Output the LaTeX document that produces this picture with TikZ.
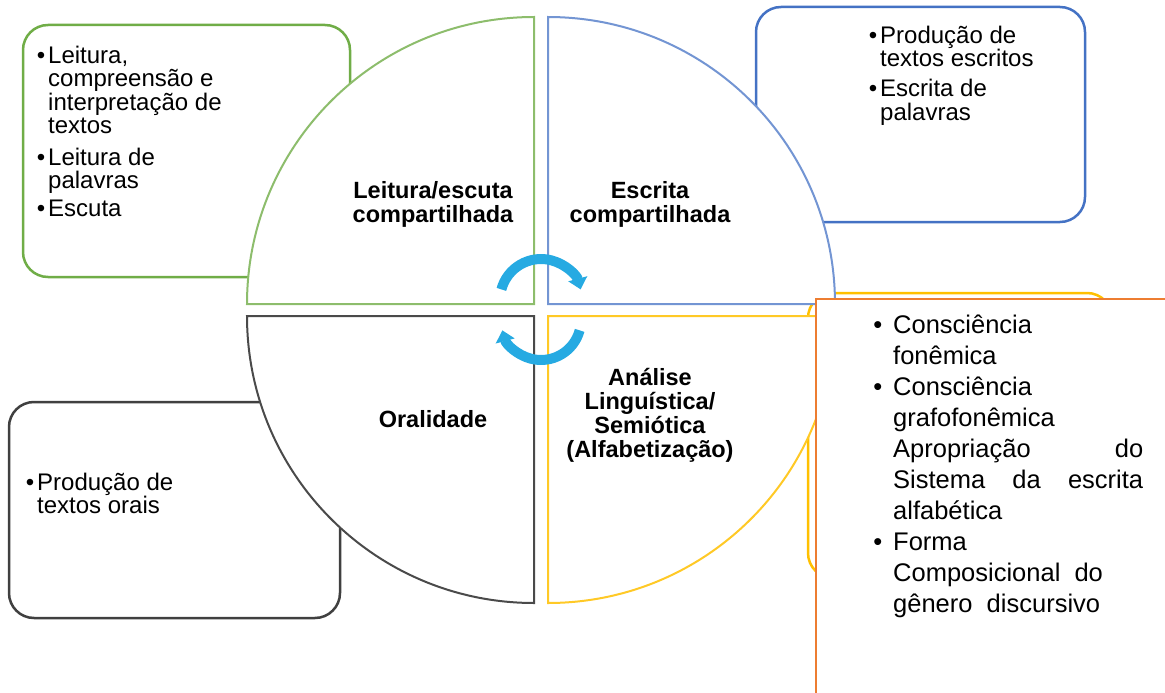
\documentclass[tikz,border=0pt]{standalone}
\usepackage{fontspec}
\setmainfont{Liberation Sans}
\usepackage{color}
\usetikzlibrary{arrows.meta}

\definecolor{grn}{RGB}{112,173,71}
\definecolor{blu}{RGB}{68,114,196}
\definecolor{gry}{RGB}{64,64,64}
\definecolor{ylw}{RGB}{255,192,0}
\definecolor{org}{RGB}{237,125,49}
\definecolor{cyn}{RGB}{38,170,226}

\newcommand{\bul}[1][3pt]{\llap{\textbullet\hspace{#1}}}

\tikzset{
  sidebox/.style={fill=white, rounded corners=25pt, line width=2.5pt},
  quad/.style={fill=white, line width=2pt},
  sidetext/.style={anchor=north west, align=left, inner sep=0pt,
    font=\fontsize{24}{23.5}\selectfont},
  quadtext/.style={align=center, inner sep=0pt,
    font=\bfseries\fontsize{23.5}{24}\selectfont},
  cycarrow/.style={draw=cyn, line width=10pt, -{Triangle[width=19pt,length=11pt]}}
}

\begin{document}
\begin{tikzpicture}[x=1pt,y=-1pt]
  \useasboundingbox (0,0) rectangle (1165,693);

  % boxes behind the circle
  \draw[sidebox, draw=grn] (23,25) rectangle (350,277);
  \draw[sidebox, draw=blu] (756,7) rectangle (1085,222);
  \draw[sidebox, draw=gry] (9,402) rectangle (340,618);
  \draw[sidebox, draw=ylw] (808,293) rectangle (1112,578);

  \node[sidetext] (tlei) at (48,45.8)
    {\bul Leitura,\\ compreensão e\\ interpretação de\\ textos\\[8pt]
     \bul Leitura de\\ palavras\\[4pt] \bul Escuta};
  \node[sidetext] (tesc) at (880,25.8)
    {\bul Produção de\\ textos escritos\\[6.5pt] \bul Escrita de\\ palavras};
  \node[sidetext] (tora) at (37,472.5)
    {\bul Produção de\\ textos orais};

  % the four quarters
  \coordinate (c1) at (534,304);
  \coordinate (c2) at (548,304);
  \coordinate (c3) at (534,316);
  \coordinate (c4) at (548,316);
  \draw[quad, draw=grn!80] (c1) -- ++(0,-287) arc[start angle=270, end angle=180, radius=287] -- cycle;
  \draw[quad, draw=blu!75] (c2) -- ++(0,-287) arc[start angle=270, end angle=360, radius=287] -- cycle;
  \draw[quad, draw=gry!95] (c3) -- ++(-287,0) arc[start angle=180, end angle=90, radius=287] -- cycle;
  \draw[quad, draw=ylw!85] (c4) -- ++(287,0) arc[start angle=0, end angle=90, radius=287] -- cycle;

  \node[quadtext, anchor=north] (lei) at (433,181.7) {Leitura/escuta\\ compartilhada};
  \node[quadtext, anchor=north] (esc) at (650,181.7) {Escrita\\ compartilhada};
  \node[quadtext, anchor=base] (ora) at (433,427.7) {Oralidade};
  \node[quadtext, anchor=north] (ana) at (650,368.5)
    {Análise\\ Linguística/\\ Semiótica\\ (Alfabetização)};

  % cycle arrows
  \coordinate (a1) at (541,300);
  \coordinate (a2) at (541,320);
  \draw[cycarrow] ([shift={(195:41)}]a1) arc[start angle=195, end angle=345, radius=41];
  \draw[cycarrow] ([shift={(15:40)}]a2) arc[start angle=15, end angle=165, radius=40];

  % orange frame on top
  \draw[draw=org, line width=2.5pt, fill=white] (816,710) -- (816,299) -- (1180,299) -- (1180,710);
  \node[sidetext, font=\fontsize{25.5}{31}\selectfont] (tana) at (893,315)
    {\bul[11pt]Consciência\\ fonêmica\\ \bul[11pt]Consciência\\ grafofonêmica\\
     \makebox[250pt][s]{Apropriação\hfill do}\\
     \makebox[250pt][s]{Sistema\hfill da\hfill escrita}\\
     alfabética\\ \bul[11pt]Forma\\ Composicional\ \ do\\ gênero\ \ discursivo};
\end{tikzpicture}
\end{document}
